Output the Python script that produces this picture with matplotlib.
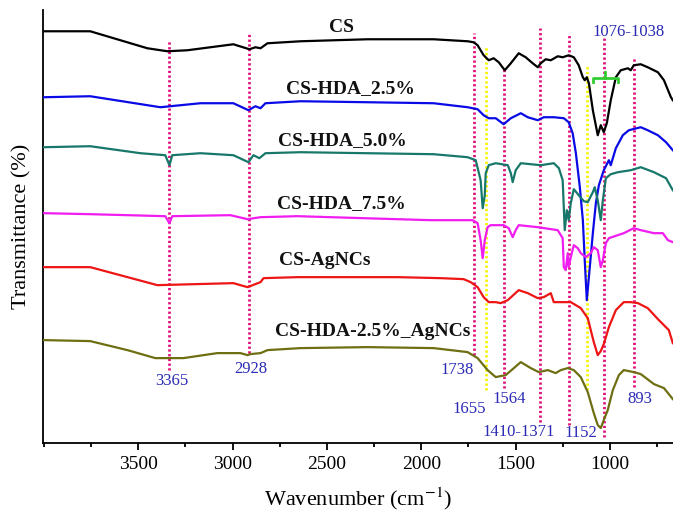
import matplotlib
matplotlib.use("Agg")
import matplotlib.pyplot as plt
from matplotlib.ticker import MultipleLocator

plt.rcParams.update({
    "font.family": "serif",
    "font.serif": ["Liberation Serif", "DejaVu Serif"],
    "mathtext.fontset": "stix",
})

# ---- spectra (wavenumber, offset transmittance) ----
cs_wn = [4000, 3755, 3452, 3346, 3240, 2996, 2911, 2879, 2852, 2815, 2640, 2284, 1934, 1754,
         1722, 1701, 1669, 1642, 1616, 1589, 1557, 1525, 1483, 1446, 1409, 1382, 1366, 1340,
         1313, 1276, 1250, 1218, 1191, 1165, 1143, 1133, 1122, 1111, 1090, 1064, 1048, 1032,
         1016, 995, 968, 942, 904, 889, 873, 836, 799, 745, 713, 676, 666]
cs_t = [412, 412, 395, 392, 393, 399, 394, 396, 395, 400, 402, 404, 404, 402,
        401, 398, 388, 383, 385, 381, 373, 380, 390, 386, 380, 376, 380, 384,
        383, 387, 386, 388, 386, 378, 366, 363, 366, 360, 333, 308, 318, 311,
        320, 343, 366, 373, 375, 373, 378, 379, 376, 371, 363, 346, 343]

hda25_wn = [4000, 3755, 3383, 3171, 2996, 2916, 2879, 2852, 2826, 2640, 2284, 1934, 1754, 1701,
            1669, 1642, 1605, 1563, 1525, 1472, 1435, 1382, 1350, 1297, 1244, 1218, 1197, 1180,
            1159, 1143, 1133, 1122, 1111, 1090, 1074, 1058, 1032, 1005, 995, 984, 968, 931,
            899, 836, 799, 745, 702, 666]
hda25_t = [346, 347, 336, 340, 340, 333, 337, 335, 340, 342, 341, 340, 336, 334,
           328, 325, 325, 319, 325, 330, 326, 323, 326, 326, 325, 321, 310, 290,
           256, 223, 183, 143, 166, 210, 240, 258, 273, 283, 278, 285, 295, 308,
           313, 316, 313, 308, 301, 293]

hda50_wn = [4000, 3755, 3489, 3357, 3335, 3320, 3171, 2996, 2916, 2890, 2858, 2826, 2640, 2284,
            1934, 1754, 1711, 1685, 1674, 1663, 1658, 1642, 1605, 1541, 1525, 1515, 1499, 1472,
            1366, 1297, 1270, 1250, 1239, 1228, 1218, 1207, 1191, 1165, 1138, 1117, 1090, 1080,
            1064, 1048, 1037, 1021, 995, 957, 889, 836, 766, 702, 666]
hda50_t = [296, 297, 290, 288, 278, 288, 290, 288, 281, 288, 285, 290, 291, 290,
           289, 286, 283, 263, 235, 248, 270, 278, 280, 278, 270, 261, 273, 280,
           278, 280, 275, 263, 213, 233, 223, 240, 254, 248, 242, 241, 251, 256,
           243, 223, 243, 265, 269, 271, 273, 276, 271, 265, 253]

hda75_wn = [4000, 3755, 3357, 3335, 3320, 3012, 2921, 2852, 2656, 2306, 1950, 1727, 1701, 1685,
            1674, 1663, 1648, 1632, 1563, 1536, 1515, 1499, 1483, 1382, 1276, 1250, 1244, 1234,
            1223, 1218, 1207, 1191, 1170, 1154, 1127, 1101, 1085, 1064, 1048, 1037, 1021, 1005,
            926, 873, 836, 766, 719, 692, 666]
hda75_t = [230, 229, 227, 220, 227, 228, 224, 226, 227, 225, 223, 223, 220, 203,
           185, 203, 216, 218, 218, 215, 206, 213, 218, 216, 213, 205, 176, 173,
           190, 176, 186, 198, 195, 190, 186, 190, 196, 193, 176, 183, 200, 205,
           210, 215, 213, 210, 210, 203, 201]

agnc_wn = [4000, 3755, 3399, 2996, 2921, 2852, 2836, 2656, 2391, 2125, 1897, 1775, 1738, 1701,
           1669, 1642, 1605, 1579, 1541, 1483, 1435, 1382, 1350, 1313, 1297, 1223, 1207, 1154,
           1117, 1085, 1064, 1048, 1032, 1005, 968, 926, 889, 851, 799, 740, 687, 666]
agnc_t = [176, 176, 158, 160, 156, 161, 165, 166, 166, 166, 165, 164, 161, 156,
          146, 141, 141, 140, 143, 153, 150, 145, 146, 150, 141, 141, 141, 135,
          125, 101, 88, 92, 99, 116, 133, 141, 141, 140, 135, 123, 113, 100]

hda_agnc_wn = [4000, 3755, 3558, 3410, 3261, 3081, 2959, 2921, 2906, 2852, 2815, 2640, 2284, 1934,
               1754, 1701, 1648, 1605, 1552, 1472, 1419, 1377, 1329, 1287, 1260, 1223, 1191, 1154,
               1117, 1085, 1064, 1048, 1032, 1011, 984, 952, 926, 873, 836, 766, 713, 666]
hda_agnc_t = [103, 102, 93, 85, 85, 90, 90, 88, 89, 90, 93, 95, 96, 95,
              91, 85, 73, 66, 68, 81, 75, 71, 73, 70, 73, 75, 73, 66,
              51, 30, 18, 15, 23, 33, 53, 68, 73, 71, 69, 59, 55, 44]

series = [
    ("CS", cs_wn, cs_t, "#000000"),
    ("CS-HDA_2.5%", hda25_wn, hda25_t, "#0a0ae6"),
    ("CS-HDA_5.0%", hda50_wn, hda50_t, "#17786a"),
    ("CS-HDA_7.5%", hda75_wn, hda75_t, "#f01cf0"),
    ("CS-AgNCs", agnc_wn, agnc_t, "#ee1515"),
    ("CS-HDA-2.5%_AgNCs", hda_agnc_wn, hda_agnc_t, "#6e6e12"),
]

# curve name positions (wavenumber, y)
name_x = [2422, 2375, 2417, 2422, 2513, 2258]
name_y = [416, 355, 303, 240, 183, 112]

# marker lines: wavenumber, top, bottom
pink_x = [3335, 2911, 1722, 1563, 1372, 1218, 1032, 873]
pink_top = [403, 410, 410, 376, 415, 410, 406, 385]
pink_bot = [73, 90, 88, 55, 21, 18, 6, 56]
yellow_x = [1658, 1122]
yellow_top = [396, 378]
yellow_bot = [53, 53]

peak_labels = ["3365", "2928", "1738", "1655", "1564", "1410-1371", "1152", "893", "1076-1038"]
peak_x = [3325, 2906, 1807, 1743, 1531, 1483, 1154, 841, 899]
peak_y = [62, 74, 73, 34, 44, 11, 10, 44, 411]

xticks = [3500, 3000, 2500, 2000, 1500, 1000]

fig = plt.figure(figsize=(6.73, 5.14), dpi=100)
ax = fig.add_axes([0.064, 0.138, 0.936, 0.842])

for i in range(len(pink_x)):
    ax.plot([pink_x[i], pink_x[i]], [pink_bot[i], pink_top[i]], color="#e0107a",
            lw=2.0, ls=(0, (0.8, 0.9)), zorder=1)
for i in range(len(yellow_x)):
    ax.plot([yellow_x[i], yellow_x[i]], [yellow_bot[i], yellow_top[i]], color="#f5f500",
            lw=2.0, ls=(0, (0.8, 0.9)), zorder=1)

for (name, wn, t, c), nx, ny in zip(series, name_x, name_y):
    ax.plot(wn, t, color=c, lw=1.6, zorder=3)
    ax.text(nx, ny, name, ha="center", va="center", fontsize=14, fontweight="bold", color="#111111")

for lab, px, py in zip(peak_labels, peak_x, peak_y):
    ax.text(px, py, lab, ha="center", va="center", fontsize=12, color="#2a2ab4", zorder=4)

# green bracket over 1076-1038 band
br_l, br_r, br_y = 1090, 957, 365
ax.plot([br_l, br_l, br_r, br_r], [br_y - 4, br_y, br_y, br_y - 4], color="#33cc33", lw=2, zorder=4)
ax.plot([(br_l + br_r) / 2] * 2, [br_y, br_y + 6], color="#33cc33", lw=2, zorder=4)

ax.set_xlim(4005, 665)
ax.set_ylim(0, 433)
ax.set_xticks(xticks)
ax.xaxis.set_minor_locator(MultipleLocator(250))
ax.set_yticks([])
ax.tick_params(axis="x", which="major", direction="out", length=5, width=1.3, labelsize=14, pad=4)
ax.tick_params(axis="x", which="minor", direction="out", length=3, width=1.3)
for s in ["top", "right"]:
    ax.spines[s].set_visible(False)
for s in ["left", "bottom"]:
    ax.spines[s].set_linewidth(1.3)

ax.set_xlabel("Wavenumber (cm$^{-1}$)", fontsize=16, labelpad=9)
ax.set_ylabel("Transmittance (%)", fontsize=16, labelpad=8)

fig.savefig("out.png", dpi=100)
